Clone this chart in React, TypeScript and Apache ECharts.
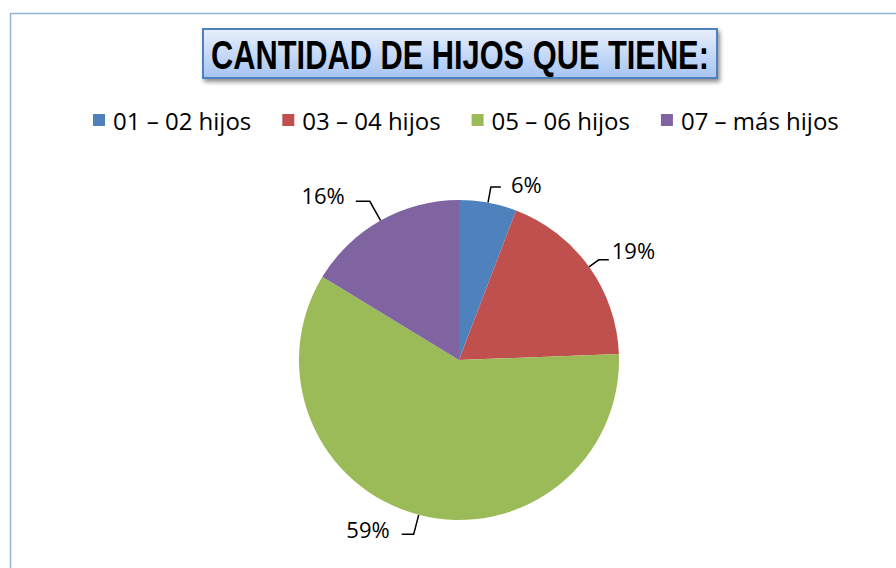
import React, { useEffect, useRef } from "react";
import * as echarts from "echarts";

const titleText = "CANTIDAD DE HIJOS QUE TIENE:";
const categories = ["01 – 02 hijos", "03 – 04 hijos", "05 – 06 hijos", "07 – más hijos"];
const values = [5.8, 18.6, 59.3, 16.3];
const colors = ["#4f81bd", "#c0504d", "#9bbb59", "#8064a2"];
const lineLengths = [16, 12, 20, 22];
const lineLengths2 = [10, 10, 12, 14];
const labelDx = [5, -2, -7, -6];
const labelDy = [-3, -10, -5, -6];

export default function App() {
  const ref = useRef<HTMLDivElement>(null);
  useEffect(() => {
    document.body.style.margin = "0";
    const chart = echarts.init(ref.current!, null, { renderer: "svg" });
    chart.setOption({
      animation: false,
      color: colors,
      graphic: [
        {
          type: "rect",
          shape: { x: 10.5, y: 13.5, width: 1000, height: 1000 },
          style: { fill: "none", stroke: "#95b3d7", lineWidth: 1.5 },
          silent: true,
        },
        {
          type: "rect",
          shape: { x: 203, y: 29, width: 514, height: 49 },
          style: {
            fill: new echarts.graphic.LinearGradient(0, 0, 0, 1, [
              { offset: 0, color: "#e8effb" },
              { offset: 1, color: "#a6c4f2" },
            ]),
            stroke: "#4f81bd",
            lineWidth: 2,
            shadowBlur: 4,
            shadowOffsetX: 2,
            shadowOffsetY: 3,
            shadowColor: "rgba(0,0,0,0.45)",
          },
        },
        {
          type: "text",
          x: 460,
          y: 56,
          scaleX: 0.77,
          originX: 0,
          style: {
            text: titleText,
            font: 'bold 40px "Liberation Sans", Arial',
            fill: "#000",
            align: "center",
            verticalAlign: "middle",
          },
        },
      ],
      legend: {
        top: 103,
        left: 88,
        itemWidth: 12,
        itemHeight: 12,
        itemGap: 31,
        icon: "rect",
        textStyle: { fontSize: 24, color: "#000", fontFamily: "Open Sans", padding: [0, 0, 0, 3] },
        data: categories,
      },
      series: [
        {
          type: "pie",
          center: [459, 360],
          radius: 160,
          startAngle: 90,
          clockwise: true,
          percentPrecision: 0,
          data: categories.map((c, i) => ({
            name: c,
            value: values[i],
            labelLine: { length: lineLengths[i], length2: lineLengths2[i] },
          })),
          label: {
            formatter: "{d}%",
            fontSize: 22,
            color: "#000",
            fontFamily: "Open Sans",
          },
          labelLine: {
            show: true,
            lineStyle: { color: "#000", width: 1.5 },
          },
          labelLayout: (p: any) => ({ dx: labelDx[p.dataIndex], dy: labelDy[p.dataIndex] }),
          itemStyle: { borderWidth: 0 },
          emphasis: { disabled: true },
        },
      ],
    });
    return () => chart.dispose();
  }, []);
  return <div ref={ref} style={{ width: 896, height: 568 }} />;
}
